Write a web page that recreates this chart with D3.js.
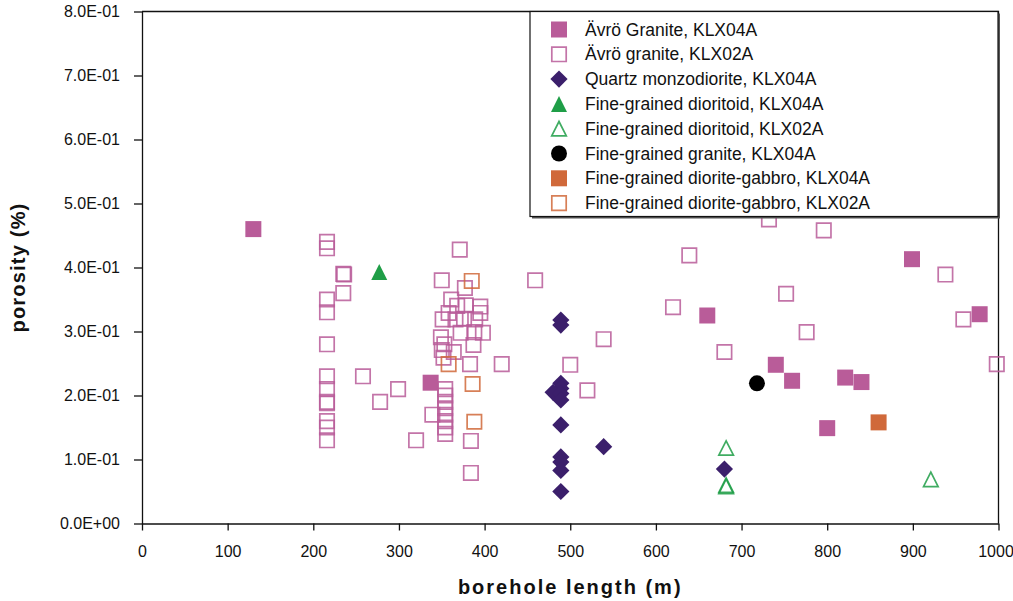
<!DOCTYPE html>
<html>
<head>
<meta charset="utf-8">
<script src="https://cdn.jsdelivr.net/npm/d3@7"></script>
<style>
  html, body { margin: 0; padding: 0; background: #fff; }
  svg { display: block; font-family: Arial, "Liberation Sans", sans-serif; }
</style>
</head>
<body>
<svg id="chart" width="1013" height="601"></svg>
<script>
// Porosity versus borehole length, KLX04A / KLX02A rock types
const xTicks = [0, 100, 200, 300, 400, 500, 600, 700, 800, 900, 1000];
const yTicks = [0, 0.1, 0.2, 0.3, 0.4, 0.5, 0.6, 0.7, 0.8];
const yTickLabels = ["0.0E+00", "1.0E-01", "2.0E-01", "3.0E-01", "4.0E-01",
                     "5.0E-01", "6.0E-01", "7.0E-01", "8.0E-01"];

// [borehole length (m), porosity (%)]
const avroGraniteKLX04A = [
  [130, 0.46], [337, 0.22], [660, 0.325], [740, 0.248], [759, 0.223],
  [800, 0.149], [821, 0.228], [840, 0.221], [899, 0.413], [978, 0.327]
];
const avroGraniteKLX02A = [
  [216, 0.44], [216, 0.43], [216, 0.35], [216, 0.33], [216, 0.28], [216, 0.23],
  [216, 0.21], [216, 0.19], [216, 0.188], [216, 0.16], [216, 0.15], [216, 0.13],
  [235, 0.39], [236, 0.389], [235, 0.36], [258, 0.23], [278, 0.19], [299, 0.21],
  [320, 0.13], [339, 0.17],
  [354, 0.21], [354, 0.20], [354, 0.19], [354, 0.18], [354, 0.17], [354, 0.16],
  [354, 0.15], [354, 0.14],
  [350, 0.38], [371, 0.428], [459, 0.38], [377, 0.368], [361, 0.35], [368, 0.34],
  [378, 0.341], [395, 0.339], [358, 0.329], [395, 0.329], [351, 0.319], [366, 0.319],
  [376, 0.32], [389, 0.319], [398, 0.298], [388, 0.299], [372, 0.298], [349, 0.291],
  [387, 0.279], [353, 0.28], [350, 0.271], [364, 0.268], [352, 0.259], [383, 0.249],
  [420, 0.249], [500, 0.248], [539, 0.288], [520, 0.208], [384, 0.129], [384, 0.079],
  [732, 0.475], [796, 0.458], [639, 0.419], [938, 0.389], [752, 0.359], [620, 0.338],
  [959, 0.319], [776, 0.299], [680, 0.268], [998, 0.249]
];
const quartzMonzodioriteKLX04A = [
  [489, 0.318], [489, 0.31], [489, 0.219], [489, 0.211], [480, 0.205], [489, 0.203],
  [489, 0.193], [489, 0.154], [489, 0.104], [489, 0.096], [489, 0.083], [489, 0.05],
  [539, 0.12], [680, 0.085]
];
const dioritoidKLX04A = [[277, 0.393]];
const dioritoidKLX02A = [[682, 0.118], [682, 0.058], [682, 0.06], [921, 0.069]];
const fineGraniteKLX04A = [[718, 0.219]];
const dioriteGabbroKLX04A = [[860, 0.158]];
const dioriteGabbroKLX02A = [[385, 0.379], [358, 0.249], [386, 0.218], [388, 0.159]];

const PINK = "#b95c99", PURPLE = "#3b1f6b", GREEN = "#1f9e47", ORANGE = "#d0693a";

const series = [
  { name: "Ävrö Granite, KLX04A", data: avroGraniteKLX04A, shape: "square", fill: PINK, stroke: null },
  { name: "Ävrö granite, KLX02A", data: avroGraniteKLX02A, shape: "square", fill: "none", stroke: PINK },
  { name: "Quartz monzodiorite, KLX04A", data: quartzMonzodioriteKLX04A, shape: "diamond", fill: PURPLE, stroke: null },
  { name: "Fine-grained dioritoid, KLX04A", data: dioritoidKLX04A, shape: "triangle", fill: GREEN, stroke: null },
  { name: "Fine-grained dioritoid, KLX02A", data: dioritoidKLX02A, shape: "triangle", fill: "none", stroke: GREEN },
  { name: "Fine-grained granite, KLX04A", data: fineGraniteKLX04A, shape: "circle", fill: "#000", stroke: null },
  { name: "Fine-grained diorite-gabbro, KLX04A", data: dioriteGabbroKLX04A, shape: "square", fill: ORANGE, stroke: null },
  { name: "Fine-grained diorite-gabbro, KLX02A", data: dioriteGabbroKLX02A, shape: "square", fill: "none", stroke: ORANGE }
];

const W = 1013, H = 601;
const margin = { top: 11.5, right: 14.5, bottom: 77.5, left: 142 };
const svg = d3.select("#chart");

const x = d3.scaleLinear().domain([0, 1000]).range([margin.left, W - margin.right]);
const y = d3.scaleLinear().domain([0, 0.8]).range([H - margin.bottom, margin.top]);

// marker path centred on its bounding box
function markerPath(shape, open) {
  if (shape === "square") { const h = open ? 7.2 : 8; return `M${-h},${-h}H${h}V${h}H${-h}Z`; }
  if (shape === "diamond") { const h = 8.6; return `M0,${-h}L${h},0L0,${h}L${-h},0Z`; }
  if (shape === "triangle") { const w = open ? 7.3 : 8, hh = open ? 7.2 : 8; return `M0,${-hh}L${w},${hh}L${-w},${hh}Z`; }
  return null;
}

function drawMarker(sel, s) {
  const open = s.fill === "none";
  if (s.shape === "circle") {
    sel.append("circle").attr("r", 8).attr("fill", s.fill);
  } else {
    sel.append("path")
      .attr("d", markerPath(s.shape, open))
      .attr("fill", s.fill)
      .attr("stroke", s.stroke || "none")
      .attr("stroke-width", open ? 1.7 : 0)
      .attr("stroke-opacity", open ? 0.85 : 1)
      .attr("stroke-linejoin", "miter");
  }
}

// frame + axes
const plot = svg.append("g");
plot.append("path")
  .attr("d", `M${x(0)},${y(0.8)}H${x(1000)}V${y(0)}`)
  .attr("fill", "none").attr("stroke", "#111").attr("stroke-width", 1.3);

const xAxis = d3.axisBottom(x).tickValues(xTicks).tickSize(7).tickPadding(15).tickSizeOuter(0)
  .tickFormat(d3.format("d"));
const gx = svg.append("g").attr("transform", `translate(0,${y(0)})`).call(xAxis);
// keep the last label inside the page edge
gx.selectAll(".tick text").filter(d => d === 1000).attr("dx", "-3");

const yAxis = d3.axisLeft(y).tickValues(yTicks).tickSize(8).tickPadding(14).tickSizeOuter(0)
  .tickFormat((d, i) => yTickLabels[i]);
const gy = svg.append("g").attr("transform", `translate(${x(0)},0)`).call(yAxis);

[gx, gy].forEach(g => {
  g.select(".domain").attr("stroke", "#111").attr("stroke-width", 1.3);
  g.selectAll(".tick line").attr("stroke", "#111").attr("stroke-width", 1.3);
  g.selectAll(".tick text").attr("fill", "#111")
    .style("font-family", "Arial, 'Liberation Sans', sans-serif").style("font-size", "16px");
});

// axis titles
svg.append("text")
  .attr("x", (x(0) + x(1000)) / 2).attr("y", 594)
  .attr("text-anchor", "middle")
  .style("font-size", "20px").style("font-weight", "bold").style("letter-spacing", "2px")
  .attr("fill", "#111")
  .text("borehole length (m)");
svg.append("text")
  .attr("transform", `translate(25,${(y(0) + y(0.8)) / 2}) rotate(-90)`)
  .attr("text-anchor", "middle")
  .style("font-size", "20px").style("font-weight", "bold").style("letter-spacing", "1.2px")
  .attr("fill", "#111")
  .text("porosity (%)");

// data points
const pts = svg.append("g");
series.forEach(s => {
  pts.append("g").selectAll("g").data(s.data).join("g")
    .attr("transform", d => `translate(${x(d[0])},${y(d[1])})`)
    .each(function () { drawMarker(d3.select(this), s); });
});

// legend
const lg = svg.append("g");
const lx0 = 530, ly0 = 11.5, lx1 = 998, ly1 = 216.5;
lg.append("rect").attr("x", lx0 + 2).attr("y", ly0 + 2).attr("width", lx1 - lx0).attr("height", ly1 - ly0)
  .attr("fill", "#555");
lg.append("rect").attr("x", lx0).attr("y", ly0).attr("width", lx1 - lx0).attr("height", ly1 - ly0)
  .attr("fill", "#fff").attr("stroke", "#111").attr("stroke-width", 1.2);
series.forEach((s, i) => {
  const row = lg.append("g").attr("transform", `translate(559,${29.5 + i * 24.8})`);
  drawMarker(row, s);
  row.append("text").attr("x", 26).attr("y", 6)
    .style("font-size", "17.5px").attr("fill", "#111").text(s.name);
});
</script>
</body>
</html>
